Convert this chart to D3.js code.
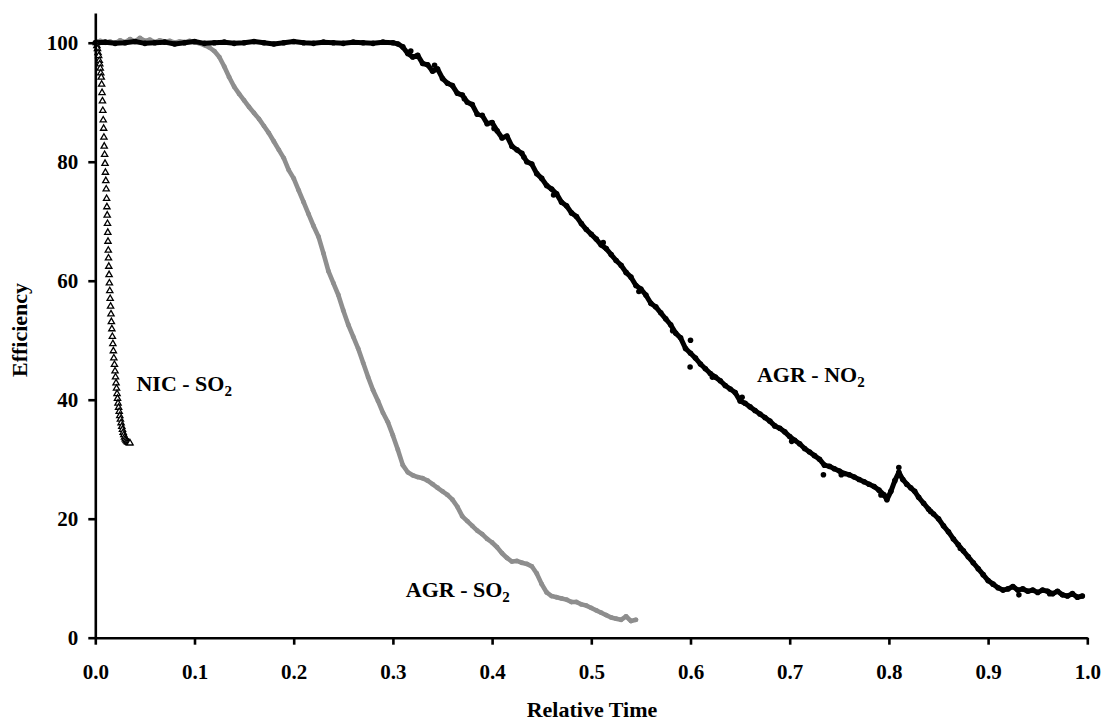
<!DOCTYPE html>
<html>
<head>
<meta charset="utf-8">
<script src="https://cdn.jsdelivr.net/npm/d3@7"></script>
<style>
  html, body { margin: 0; padding: 0; background: #fff; }
  svg { display: block; font-family: "Liberation Serif", "Times New Roman", serif; font-weight: bold; }
</style>
</head>
<body>
<svg id="chart" width="1106" height="724"></svg>
<script>
// ---------- data ----------
const xTicks = [0, 0.1, 0.2, 0.3, 0.4, 0.5, 0.6, 0.7, 0.8, 0.9, 1.0];
const yTicks = [0, 20, 40, 60, 80, 100];
const xTitle = "Relative Time";
const yTitle = "Efficiency";

// NIC - SO2 (open triangles): [relative time, efficiency]
const nicSO2 = [
  [0.0010,100],[0.0016,99.5],[0.0022,99.0],[0.0028,98.3],[0.0034,97.8],[0.0040,97.0],[0.0045,96.4],
  [0.0050,95.7],[0.0055,94.9],[0.0060,94.2],[0.0064,93.0],[0.0068,91.6],[0.0072,90.2],[0.0076,88.6],
  [0.0080,87.0],[0.0084,85.6],[0.0087,84.1],[0.0090,82.6],[0.0094,81.2],[0.0098,79.7],[0.0102,78.2],
  [0.0106,76.8],[0.0110,75.4],[0.0114,73.8],[0.0117,72.4],[0.0120,71.0],[0.0123,69.6],[0.0126,68.1],
  [0.0128,66.6],[0.0131,65.1],[0.0133,63.8],[0.0136,62.4],[0.0139,61.0],[0.0142,59.6],[0.0146,58.3],
  [0.0150,57.0],[0.0154,55.7],[0.0158,54.4],[0.0162,53.1],[0.0167,51.9],[0.0172,50.6],[0.0177,49.4],
  [0.0182,48.2],[0.0187,47.0],[0.0193,45.9],[0.0199,44.8],[0.0204,43.8],[0.0209,42.8],[0.0214,41.9],
  [0.0219,41.0],[0.0224,40.2],[0.0229,39.4],[0.0235,38.7],[0.0241,38.0],[0.0247,37.3],[0.0253,36.7],
  [0.0260,36.1],[0.0267,35.5],[0.0274,35.0],[0.0281,34.5],[0.0288,34.1],[0.0295,33.7],[0.0302,33.4],
  [0.0310,33.2],[0.0318,33.0],[0.0326,32.9],[0.0334,32.8],[0.0342,32.7],[0.0350,32.7]
];

// AGR - SO2 (grey dots)
const agrSO2 = [
  [0.000,100],[0.005,100.3],[0.010,100],[0.015,100.2],[0.020,99.9],[0.025,100.4],[0.030,100.1],
  [0.035,100.6],[0.040,100.2],[0.045,100.8],[0.050,100.3],[0.055,100.5],[0.060,100.1],[0.065,100.4],
  [0.070,100.2],[0.075,100.3],[0.080,100.0],[0.085,100.2],[0.090,100.1],[0.095,100.3],[0.100,100.1],
  [0.105,99.9],[0.110,99.6],[0.115,99.2],[0.120,98.6],[0.125,97.6],[0.130,96.0],[0.135,94.2],
  [0.140,92.6],[0.145,91.4],[0.150,90.3],[0.155,89.2],[0.160,88.2],[0.165,87.2],[0.170,86.0],
  [0.175,84.8],[0.180,83.4],[0.185,82.0],[0.190,80.6],[0.195,78.6],[0.200,77.2],[0.205,75.2],
  [0.210,73.2],[0.215,71.2],[0.220,69.2],[0.225,67.4],[0.230,64.6],[0.235,61.6],[0.240,59.6],
  [0.245,57.6],[0.250,55.0],[0.255,52.6],[0.260,50.6],[0.265,48.6],[0.270,46.2],[0.275,43.8],
  [0.280,41.6],[0.285,39.8],[0.290,37.8],[0.295,36.2],[0.300,34.0],[0.305,31.6],[0.310,29.0],
  [0.315,27.8],[0.320,27.3],[0.325,27.0],[0.330,26.8],[0.335,26.4],[0.340,25.8],[0.345,25.2],
  [0.350,24.6],[0.355,24.0],[0.360,23.2],[0.365,22.0],[0.370,20.4],[0.375,19.6],[0.380,18.8],
  [0.385,18.0],[0.390,17.4],[0.395,16.6],[0.400,16.0],[0.405,15.2],[0.410,14.2],[0.415,13.4],
  [0.420,12.8],[0.425,12.9],[0.430,12.6],[0.435,12.4],[0.440,12.0],[0.445,10.8],[0.450,9.0],
  [0.455,7.6],[0.460,7.0],[0.465,6.8],[0.470,6.6],[0.475,6.4],[0.480,6.0],[0.485,6.0],
  [0.490,5.6],[0.495,5.4],[0.500,5.0],[0.505,4.6],[0.510,4.2],[0.515,3.8],[0.520,3.4],
  [0.525,3.2],[0.530,3.0],[0.535,3.6],[0.540,2.8],[0.545,3.0]
];

// AGR - NO2 (black dots)
const agrNO2 = [
  [0.000,100],[0.010,100.1],[0.020,99.9],[0.030,100],[0.040,100.2],[0.050,99.9],[0.060,100],
  [0.070,100.1],[0.080,99.8],[0.090,100],[0.100,100.2],[0.110,99.9],[0.120,100],[0.130,100.1],
  [0.140,99.9],[0.150,100],[0.160,100.2],[0.170,100],[0.180,99.8],[0.190,100],[0.200,100.2],
  [0.210,100],[0.220,99.9],[0.230,100.1],[0.240,100],[0.250,99.9],[0.260,100.1],[0.270,100],
  [0.280,99.9],[0.290,100.1],[0.300,100],
  [0.305,99.8],[0.310,99.3],[0.315,98.2],[0.320,97.6],[0.325,97.9],[0.330,96.5],[0.335,96.3],
  [0.340,95.2],[0.345,95.6],[0.350,94.0],[0.355,93.2],[0.360,92.8],[0.365,91.5],[0.370,91.2],
  [0.375,90.0],[0.380,89.6],[0.385,88.0],[0.390,87.8],[0.395,86.4],[0.400,86.6],[0.405,85.2],
  [0.410,84.0],[0.415,84.3],[0.420,82.6],[0.425,82.0],[0.430,81.4],[0.435,80.0],[0.440,79.6],
  [0.445,78.0],[0.450,77.2],[0.455,76.0],[0.460,75.4],[0.465,74.6],[0.470,73.2],[0.475,72.6],
  [0.480,71.4],[0.485,70.8],[0.490,69.6],[0.495,68.6],[0.500,67.8],[0.505,67.0],[0.510,66.0],
  [0.515,65.4],[0.520,64.4],[0.525,63.4],[0.530,62.6],[0.535,61.4],[0.540,60.6],[0.545,59.2],
  [0.550,58.6],[0.555,57.6],[0.560,56.2],[0.565,55.6],[0.570,54.6],[0.575,53.6],[0.580,52.6],
  [0.585,51.2],[0.590,50.4],[0.595,48.6],[0.600,47.8],[0.605,47.0],[0.610,46.0],[0.615,45.2],
  [0.620,44.4],[0.625,43.8],[0.630,43.2],[0.635,42.4],[0.640,41.8],[0.645,41.2],[0.650,39.8],
  [0.655,39.4],[0.660,38.8],[0.665,38.2],[0.670,37.6],[0.675,37.0],[0.680,36.4],[0.685,35.6],
  [0.690,35.2],[0.695,34.6],[0.700,33.8],[0.705,33.2],[0.710,32.6],[0.715,31.8],[0.720,31.2],
  [0.725,30.6],[0.730,30.0],[0.735,29.0],[0.740,28.8],[0.745,28.4],[0.750,28.0],[0.755,27.6],
  [0.760,27.4],[0.765,27.0],[0.770,26.6],[0.775,26.2],[0.780,25.8],[0.785,25.4],[0.790,24.8],
  [0.795,24.0],[0.798,23.2],[0.802,24.6],[0.806,26.4],[0.810,27.8],[0.814,26.6],[0.818,25.8],
  [0.822,25.2],[0.826,24.6],[0.830,23.6],[0.835,22.6],[0.840,21.6],[0.845,20.8],[0.850,20.0],
  [0.855,18.8],[0.860,17.8],[0.865,16.6],[0.870,15.6],[0.875,14.6],[0.880,13.6],[0.885,12.6],
  [0.890,11.6],[0.895,10.6],[0.900,9.6],[0.905,9.0],[0.910,8.4],[0.915,8.0],[0.920,8.2],
  [0.925,8.6],[0.930,8.0],[0.935,8.2],[0.940,7.8],[0.945,8.0],[0.950,7.6],[0.955,8.0],
  [0.960,7.8],[0.965,7.4],[0.970,7.8],[0.975,7.2],[0.980,7.0],[0.985,7.4],[0.990,6.8],[0.995,7.0]
];
// stray black points just off the band
const agrNO2Stray = [
  [0.5996,45.5],[0.600,50.0],[0.734,27.4],[0.810,28.6],[0.931,7.2],
  [0.318,98.6],[0.342,96.2],[0.372,90.6],[0.402,85.6],[0.432,80.8],[0.462,74.4],
  [0.512,66.4],[0.548,58.2],[0.582,51.6],[0.622,43.8],[0.652,40.4],[0.702,33.0],
  [0.752,27.4],[0.792,24.0],[0.842,21.2],[0.872,15.0],[0.962,7.4]
];

// series labels: [text, subscript, x (data), y (data)]
const seriesLabels = [
  ["NIC - SO", "2", 0.0415, 41.5],
  ["AGR - SO", "2", 0.313, 6.8],
  ["AGR - NO", "2", 0.667, 43.0]
];

// ---------- drawing ----------
const svg = d3.select("#chart");
const x = d3.scaleLinear().domain([0, 1]).range([95.3, 1087.3]);
const y = d3.scaleLinear().domain([0, 105]).range([637.7, 13]);

const line = d3.line().x(d => x(d[0])).y(d => y(d[1]));

// AGR - SO2 grey
const grey = "#8e8e8e";
svg.append("path").datum(agrSO2)
  .attr("d", line).attr("fill", "none").attr("stroke", grey)
  .attr("stroke-width", 4.6).attr("stroke-linejoin", "round").attr("stroke-linecap", "round");
svg.append("g").selectAll("circle").data(agrSO2).join("circle")
  .attr("cx", d => x(d[0])).attr("cy", d => y(d[1])).attr("r", 2.4).attr("fill", grey);

// AGR - NO2 black
svg.append("path").datum(agrNO2)
  .attr("d", line).attr("fill", "none").attr("stroke", "#000")
  .attr("stroke-width", 5).attr("stroke-linejoin", "round").attr("stroke-linecap", "round");
svg.append("g").selectAll("circle").data(agrNO2.concat(agrNO2Stray)).join("circle")
  .attr("cx", d => x(d[0])).attr("cy", d => y(d[1])).attr("r", 2.8).attr("fill", "#000");

// NIC - SO2 triangles
const tri = d3.symbol().type(d3.symbolTriangle).size(17);
svg.append("g").selectAll("path").data(nicSO2).join("path")
  .attr("d", tri)
  .attr("transform", d => `translate(${x(d[0])},${y(d[1])})`)
  .attr("fill", "#fff").attr("stroke", "#000").attr("stroke-width", 1.3);

// axes
const xAxis = d3.axisBottom(x).tickValues(xTicks).tickFormat(d3.format(".1f"))
  .tickSize(7).tickSizeOuter(0).tickPadding(19);
const yAxis = d3.axisLeft(y).tickValues(yTicks).tickFormat(d3.format("d"))
  .tickSize(7).tickSizeOuter(0).tickPadding(10);

const gx = svg.append("g").attr("transform", `translate(0,${y(0)})`).call(xAxis);
const gy = svg.append("g").attr("transform", `translate(${x(0)},0)`).call(yAxis);
[gx, gy].forEach(g => {
  g.select(".domain").attr("stroke", "#000").attr("stroke-width", 2.6);
  g.selectAll(".tick line").attr("stroke", "#000").attr("stroke-width", 2.6);
  g.selectAll(".tick text").attr("fill", "#000")
    .style("font-family", "'Liberation Serif', serif").style("font-weight", "bold").style("font-size", "21px");
});

// axis titles
svg.append("text").attr("x", 592).attr("y", 716.5).attr("text-anchor", "middle")
  .style("font-size", "22px").text(xTitle);
svg.append("text").attr("transform", "translate(27,330) rotate(-90)").attr("text-anchor", "middle")
  .style("font-size", "22px").text(yTitle);

// series labels
seriesLabels.forEach(([t, sub, lx, ly]) => {
  const txt = svg.append("text").attr("x", x(lx)).attr("y", y(ly)).style("font-size", "22px");
  txt.append("tspan").text(t);
  txt.append("tspan").attr("dy", 5).style("font-size", "15px").text(sub);
});
</script>
</body>
</html>
